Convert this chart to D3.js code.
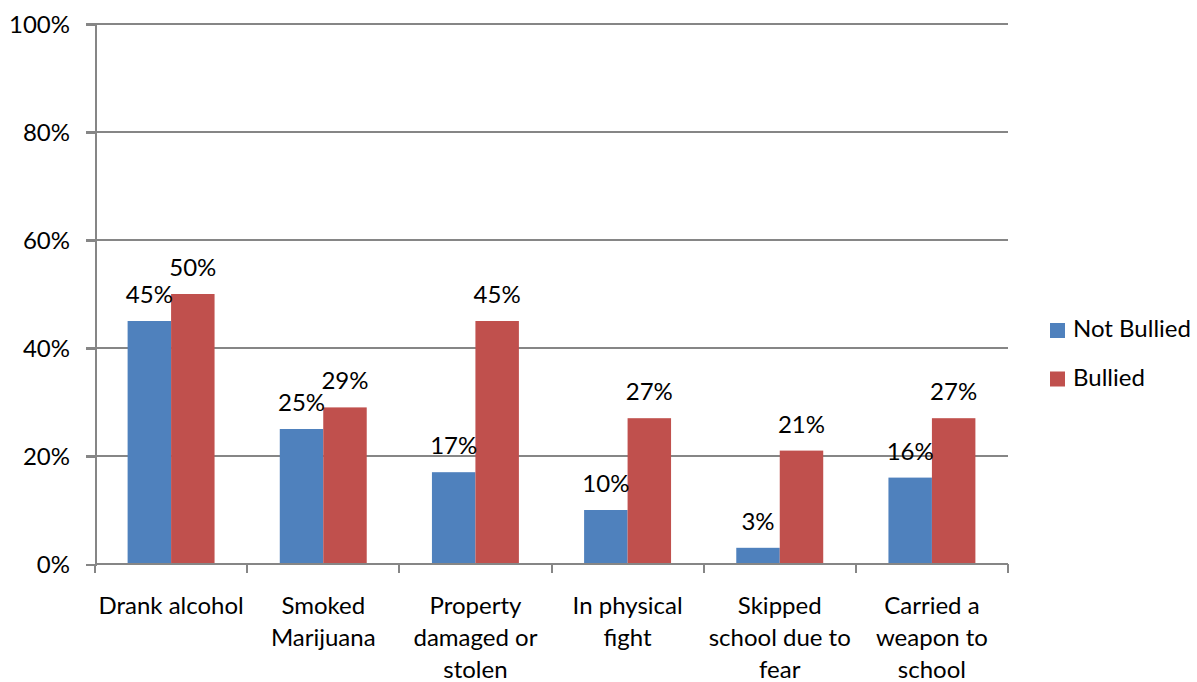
<!DOCTYPE html>
<meta charset='utf-8'>
<head>
    <title>Bullying</title>
    <script src='https://cdnjs.cloudflare.com/ajax/libs/d3/7.8.5/d3.min.js'></script>
</head>

<style>
    body { margin: 0; background: #fff; }
    text {
        font-family: Lato, 'Open Sans', sans-serif;
        font-size: 24px;
        fill: #000;
    }
    .grid line, .axis line, .axis path {
        stroke: #868686;
        stroke-width: 2px;
        shape-rendering: crispEdges;
    }
</style>

<svg></svg>

<script>

    // categories (pre-wrapped the way the original labels break)
    var categories = ['Drank alcohol', 'Smoked Marijuana', 'Property damaged or stolen',
        'In physical fight', 'Skipped school due to fear', 'Carried a weapon to school'];
    var categoryLines = [
        ['Drank alcohol'],
        ['Smoked', 'Marijuana'],
        ['Property', 'damaged or', 'stolen'],
        ['In physical', 'fight'],
        ['Skipped', 'school due to', 'fear'],
        ['Carried a', 'weapon to', 'school']
    ];
    var seriesNames = ['Not Bullied', 'Bullied'];
    var notBullied = [45, 25, 17, 10, 3, 16];
    var bullied = [50, 29, 45, 27, 21, 27];
    var yTicks = [0, 20, 40, 60, 80, 100];
    var colors = ['#4F81BD', '#C0504D'];

    var vWidth = 1197;
    var vHeight = 682;
    var mLeft = 95, mRight = 1008, mTop = 24, mBottom = 564;

    var svg = d3.select('svg').attr('width', vWidth).attr('height', vHeight);

    var x = d3.scaleBand().domain(categories).range([mLeft, mRight]).paddingInner(0).paddingOuter(0);
    var xInner = d3.scaleBand().domain(seriesNames).range([0, x.bandwidth()]).paddingInner(0).paddingOuter(0.75);
    var y = d3.scaleLinear().domain([0, 100]).range([mBottom, mTop]);

    // gridlines
    svg.append('g').attr('class', 'grid')
        .selectAll('line').data(yTicks.slice(1)).enter().append('line')
        .attr('x1', mLeft - 9).attr('x2', mRight)
        .attr('y1', function (d) { return y(d); })
        .attr('y2', function (d) { return y(d); });

    // y axis
    var yAxis = svg.append('g').attr('class', 'axis')
        .attr('transform', 'translate(' + mLeft + ',0)')
        .call(d3.axisLeft(y).tickValues(yTicks).tickSize(9).tickPadding(16)
            .tickFormat(function (d) { return d + '%'; }));
    yAxis.selectAll('text').style('font-size', '24px').style('font-family', 'Lato, sans-serif')
        .attr('dy', '0.35em');

    // bars
    var data = categories.map(function (c, i) {
        return {cat: c, values: [notBullied[i], bullied[i]]};
    });
    var groups = svg.selectAll('g.cat').data(data).enter().append('g').attr('class', 'cat')
        .attr('transform', function (d) { return 'translate(' + x(d.cat) + ',0)'; });

    groups.selectAll('rect').data(function (d) { return d.values; }).enter().append('rect')
        .attr('x', function (d, i) { return xInner(seriesNames[i]); })
        .attr('width', xInner.bandwidth())
        .attr('y', function (d) { return y(d); })
        .attr('height', function (d) { return y(0) - y(d); })
        .attr('fill', function (d, i) { return colors[i]; });

    groups.selectAll('text.lbl').data(function (d) { return d.values; }).enter().append('text')
        .attr('class', 'lbl')
        .attr('text-anchor', 'middle')
        .attr('x', function (d, i) { return xInner(seriesNames[i]) + xInner.bandwidth() / 2; })
        .attr('y', function (d) { return y(d) - 18; })
        .text(function (d) { return d + '%'; });

    // x axis
    var xAxis = svg.append('g').attr('class', 'axis')
        .attr('transform', 'translate(0,' + mBottom + ')');
    xAxis.append('line').attr('x1', mLeft).attr('x2', mRight).attr('y1', 0).attr('y2', 0);
    xAxis.selectAll('line.tick').data(d3.range(categories.length + 1)).enter().append('line')
        .attr('class', 'tick')
        .attr('x1', function (i) { return mLeft + i * x.step(); })
        .attr('x2', function (i) { return mLeft + i * x.step(); })
        .attr('y1', 0).attr('y2', 9);

    var labels = svg.selectAll('text.cat').data(categoryLines).enter().append('text')
        .attr('class', 'cat')
        .attr('text-anchor', 'middle')
        .attr('transform', function (d, i) {
            return 'translate(' + (x(categories[i]) + x.bandwidth() / 2) + ',614)';
        });
    labels.selectAll('tspan').data(function (d) { return d; }).enter().append('tspan')
        .attr('x', 0)
        .attr('y', function (d, i) { return i * 32; })
        .text(function (d) { return d; });

    // legend
    var legend = svg.selectAll('g.legend').data(seriesNames).enter().append('g').attr('class', 'legend')
        .attr('transform', function (d, i) { return 'translate(1050,' + (323 + i * 48.5) + ')'; });
    legend.append('rect').attr('width', 15).attr('height', 15)
        .attr('fill', function (d, i) { return colors[i]; });
    legend.append('text').attr('x', 23).attr('y', 14).text(function (d) { return d; });
</script>
